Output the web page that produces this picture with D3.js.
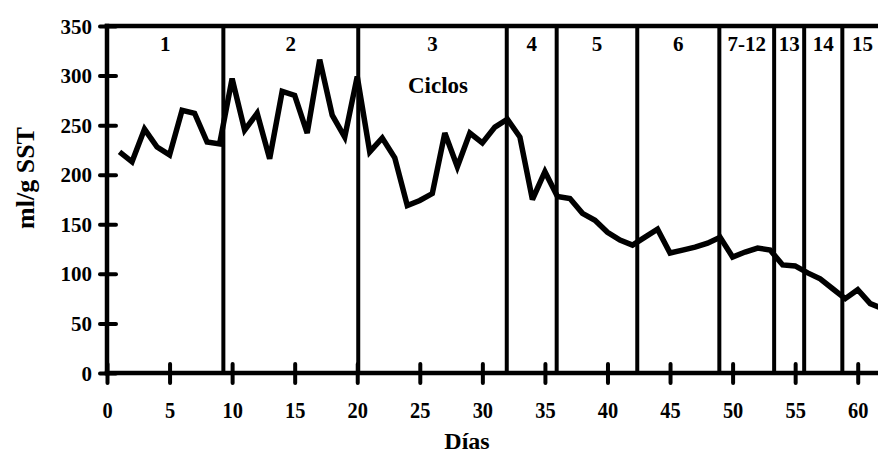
<!DOCTYPE html>
<html>
<head>
<meta charset="utf-8">
<script src="https://cdn.jsdelivr.net/npm/d3@7"></script>
<style>
  html, body { margin: 0; padding: 0; background: #fff; }
  svg { display: block; }
  text { font-family: "Liberation Serif", "Times New Roman", serif; font-weight: bold; fill: #000; }
</style>
</head>
<body>
<svg id="chart" width="878" height="454"></svg>
<script>
// Sludge volume index (ml/g SST) per day of operation
const days = [1, 2, 3, 4, 5, 6, 7, 8, 9, 10,
              11, 12, 13, 14, 15, 16, 17, 18, 19, 20,
              21, 22, 23, 24, 25, 26, 27, 28, 29, 30,
              31, 32, 33, 34, 35, 36, 37, 38, 39, 40,
              41, 42, 43, 44, 45, 46, 47, 48, 49, 50,
              51, 52, 53, 54, 55, 56, 57, 58, 59, 60,
              61, 62];
const ivl = [223, 213, 246, 228, 220, 265, 262, 233, 231, 297,
             245, 262, 216, 284, 280, 242, 316, 260, 238, 299,
             223, 237, 217, 169, 174, 181, 242, 208, 242, 232,
             248, 256, 238, 175, 203, 178, 176, 161, 154, 142,
             134, 129, 137, 145, 121, 124, 127, 131, 137, 117,
             122, 126, 124, 109, 108, 101, 95, 85, 75, 84,
             70, 65];

// Day at which each operating cycle ends (vertical separators)
const cycleEnds = [9.3, 20.08, 31.95, 35.94, 42.38, 48.94, 53.32, 55.72, 58.77];
const cycleLabels = ["1", "2", "3", "4", "5", "6", "7-12", "13", "14", "15"];

const xTicks = [0, 5, 10, 15, 20, 25, 30, 35, 40, 45, 50, 55, 60];
const yTicks = [0, 50, 100, 150, 200, 250, 300, 350];

const svg = d3.select("#chart");
const W = 878;
const xMax = 62;

const x = d3.scaleLinear().domain([0, xMax]).range([107, 107 + xMax * 12.512]);
const y = d3.scaleLinear().domain([0, 350]).range([373, 26]);

// cycle separators
const bounds = [0, ...cycleEnds, xMax];
svg.append("g").selectAll("line")
  .data(cycleEnds)
  .join("line")
  .attr("x1", d => x(d)).attr("x2", d => x(d))
  .attr("y1", y(350)).attr("y2", y(0))
  .attr("stroke", "#000").attr("stroke-width", 4);

// cycle labels centred in each interval
svg.append("g").selectAll("text")
  .data(cycleLabels)
  .join("text")
  .attr("x", (d, i) => (x(bounds[i]) + x(bounds[i + 1])) / 2)
  .attr("y", 51)
  .attr("text-anchor", "middle")
  .attr("font-size", 21)
  .text(d => d);

svg.append("text")
  .attr("x", 438).attr("y", 93)
  .attr("text-anchor", "middle")
  .attr("font-size", 23)
  .text("Ciclos");

// y axis
const yAxis = svg.append("g")
  .attr("transform", `translate(${x(0)},0)`)
  .call(d3.axisLeft(y).tickValues(yTicks).tickSizeInner(7).tickSizeOuter(0).tickPadding(8));
yAxis.select(".domain").remove();
yAxis.selectAll(".tick line").attr("x1", 9).attr("stroke-width", 4).attr("stroke-linecap", "round");
yAxis.selectAll(".tick text")
  .attr("font-size", 21)
  .attr("font-family", null)
  .attr("dy", "0.34em");

// x axis (labels in a narrow, tall face)
const xAxis = svg.append("g")
  .attr("transform", `translate(0,${y(0)})`)
  .call(d3.axisBottom(x).tickValues(xTicks).tickSizeInner(10).tickSizeOuter(0));
xAxis.select(".domain").remove();
xAxis.selectAll(".tick line").attr("y1", -9).attr("stroke-width", 4).attr("stroke-linecap", "round");
xAxis.selectAll(".tick text")
  .attr("font-size", 24)
  .attr("font-family", null)
  .attr("transform", "scale(0.85,1)")
  .attr("y", 45).attr("dy", null);

// frame: left axis, bottom axis and top edge
const frame = svg.append("g").attr("stroke", "#000").attr("stroke-width", 4.5).attr("stroke-linecap", "square");
frame.append("line").attr("x1", x(0)).attr("x2", x(0)).attr("y1", y(350)).attr("y2", y(0));
frame.append("line").attr("x1", x(0)).attr("x2", W).attr("y1", y(0)).attr("y2", y(0));
frame.append("line").attr("x1", x(0)).attr("x2", W).attr("y1", y(350)).attr("y2", y(350));

// data line
const line = d3.line().x((d, i) => x(days[i])).y(d => y(d));
svg.append("path")
  .datum(ivl)
  .attr("d", line)
  .attr("fill", "none")
  .attr("stroke", "#000")
  .attr("stroke-width", 5.5)
  .attr("stroke-linejoin", "miter")
  .attr("stroke-miterlimit", 3);

// axis titles
svg.append("text")
  .attr("transform", `translate(34,178) rotate(-90)`)
  .attr("text-anchor", "middle")
  .attr("font-size", 26)
  .text("ml/g SST");

svg.append("text")
  .attr("x", 467).attr("y", 449)
  .attr("text-anchor", "middle")
  .attr("font-size", 24)
  .text("Días");
</script>
</body>
</html>
